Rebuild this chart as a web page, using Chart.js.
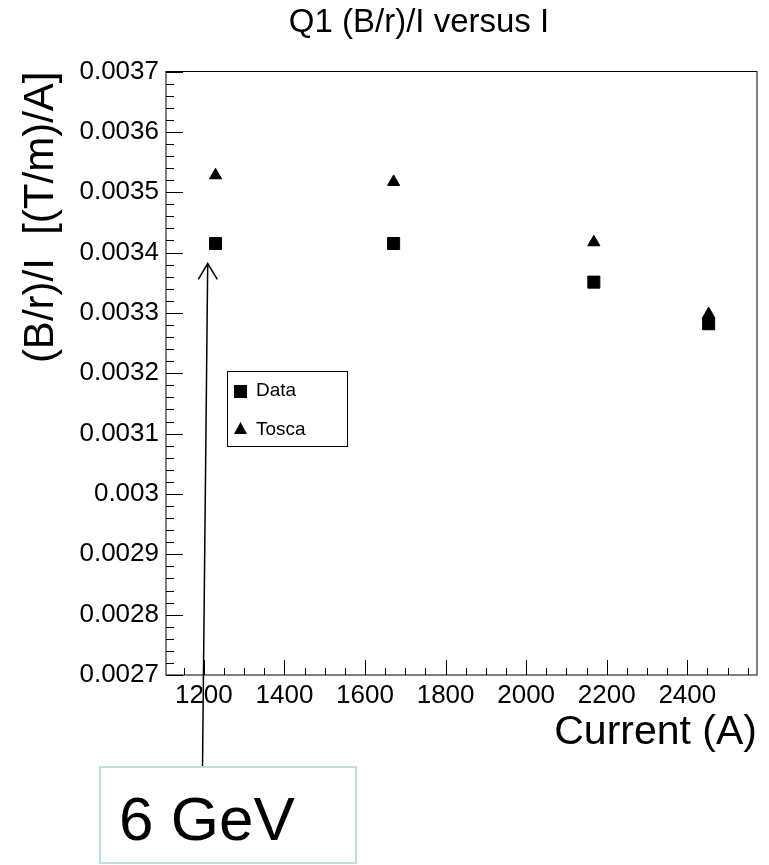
<!DOCTYPE html>
<html>
<head>
<meta charset="utf-8">
<script src="https://cdn.jsdelivr.net/npm/chart.js@4.4.0/dist/chart.umd.min.js"></script>
<style>
  html, body { margin: 0; padding: 0; background: #ffffff; }
</style>
</head>
<body>
<canvas id="myChart" width="769" height="865"></canvas>
<script>
// values
const currents = [1229, 1671, 2168, 2453];
const dataValues = [0.003415, 0.003415, 0.003351, 0.003282];
const toscaValues = [0.003528, 0.003517, 0.003417, 0.003298];
const xTickValues = [1200, 1400, 1600, 1800, 2000, 2200, 2400];
const yTickLabels = ['0.0027', '0.0028', '0.0029', '0.003', '0.0031', '0.0032',
    '0.0033', '0.0034', '0.0035', '0.0036', '0.0037'];

const FONT = '"Liberation Sans", Arial, Helvetica, sans-serif';

// ROOT style frame: box around the plot with ticks pointing inward
const framePlugin = {
    id: 'frame',
    afterDraw(chart) {
        const c = chart.ctx;
        const a = chart.chartArea;
        const xs = chart.scales.x;
        const ys = chart.scales.y;
        c.save();
        c.strokeStyle = '#000';
        c.lineWidth = 1;
        c.strokeRect(a.left, a.top, a.right - a.left, a.bottom - a.top);

        c.beginPath();
        // x ticks, minor every 50
        for (let v = 1150; v <= 2550; v += 50) {
            const px = Math.round(xs.getPixelForValue(v)) + 0.5;
            const len = v % 200 === 0 ? 15 : 7;
            c.moveTo(px, a.bottom);
            c.lineTo(px, a.bottom - len);
        }
        // y ticks, minor every 0.00002
        for (let i = 0; i <= 50; i++) {
            const v = 0.0027 + i * 0.00002;
            const py = Math.round(ys.getPixelForValue(v)) + 0.5;
            const len = i % 5 === 0 ? 17 : 8;
            c.moveTo(a.left, py);
            c.lineTo(a.left + len, py);
        }
        c.stroke();

        // title
        c.fillStyle = '#000';
        c.font = '33px ' + FONT;
        c.textAlign = 'center';
        c.textBaseline = 'middle';
        c.fillText('Q1 (B/r)/I versus I', 419, 23);

        // legend
        c.strokeRect(227.5, 371.5, 120, 75);
        c.fillRect(234, 385, 13, 13);
        c.beginPath();
        c.moveTo(240.5, 422);
        c.lineTo(247, 434);
        c.lineTo(234, 434);
        c.closePath();
        c.fill();
        c.font = '19px ' + FONT;
        c.textAlign = 'left';
        c.fillText('Data', 256, 391);
        c.fillText('Tosca', 256, 430);

        // annotation arrow
        c.lineWidth = 1.5;
        c.beginPath();
        c.moveTo(202.5, 767);
        c.lineTo(207.7, 263.5);
        c.moveTo(198.3, 279.3);
        c.lineTo(207.7, 263.5);
        c.lineTo(217.3, 279.3);
        c.stroke();

        // annotation box
        c.lineWidth = 2;
        c.strokeStyle = '#b8dfe2';
        c.strokeRect(100, 767, 256, 96);
        c.font = '62px ' + FONT;
        c.textBaseline = 'alphabetic';
        c.fillText('6 GeV', 119, 840);
        c.restore();
    }
};

const ctx = document.getElementById('myChart');

new Chart(ctx, {
    type: 'scatter',
    data: {
        datasets: [{
            label: 'Data',
            data: currents.map((x, i) => ({ x: x, y: dataValues[i] })),
            pointStyle: 'rect',
            pointRadius: 8.5,
            borderWidth: 1,
            backgroundColor: '#000',
            borderColor: '#000'
        }, {
            label: 'Tosca',
            data: currents.map((x, i) => ({ x: x, y: toscaValues[i] })),
            pointStyle: 'triangle',
            pointRadius: 7,
            borderWidth: 1,
            backgroundColor: '#000',
            borderColor: '#000'
        }]
    },
    options: {
        responsive: false,
        animation: false,
        layout: {
            padding: { top: 71.5, right: 12, left: 0, bottom: 0 }
        },
        plugins: {
            legend: { display: false },
            tooltip: { enabled: false },
            title: { display: false }
        },
        scales: {
            x: {
                type: 'linear',
                min: 1106,
                max: 2573,
                afterFit: (s) => { s.height = 190; },
                afterBuildTicks: (s) => { s.ticks = xTickValues.map(v => ({ value: v })); },
                grid: { display: false, drawTicks: false },
                border: { display: false },
                ticks: {
                    color: '#000',
                    padding: 5,
                    maxRotation: 0,
                    font: { family: FONT, size: 26 },
                    callback: (v) => String(v)
                },
                title: {
                    display: true,
                    text: 'Current (A)',
                    align: 'end',
                    color: '#000',
                    font: { family: FONT, size: 41 },
                    padding: { top: 0, bottom: 108 }
                }
            },
            y: {
                type: 'linear',
                min: 0.0027,
                max: 0.0037,
                afterFit: (s) => { s.width = 166; },
                afterBuildTicks: (s) => { s.ticks = yTickLabels.map(l => ({ value: parseFloat(l) })); },
                grid: { display: false, drawTicks: false },
                border: { display: false },
                ticks: {
                    color: '#000',
                    padding: 7,
                    font: { family: FONT, size: 26 },
                    callback: (v, i) => yTickLabels[i]
                },
                title: {
                    display: true,
                    text: '(B/r)/I  [(T/m)/A]',
                    align: 'end',
                    color: '#000',
                    font: { family: FONT, size: 42 },
                    padding: { top: 16, bottom: 0 }
                }
            }
        }
    },
    plugins: [framePlugin]
});
</script>
</body>
</html>
